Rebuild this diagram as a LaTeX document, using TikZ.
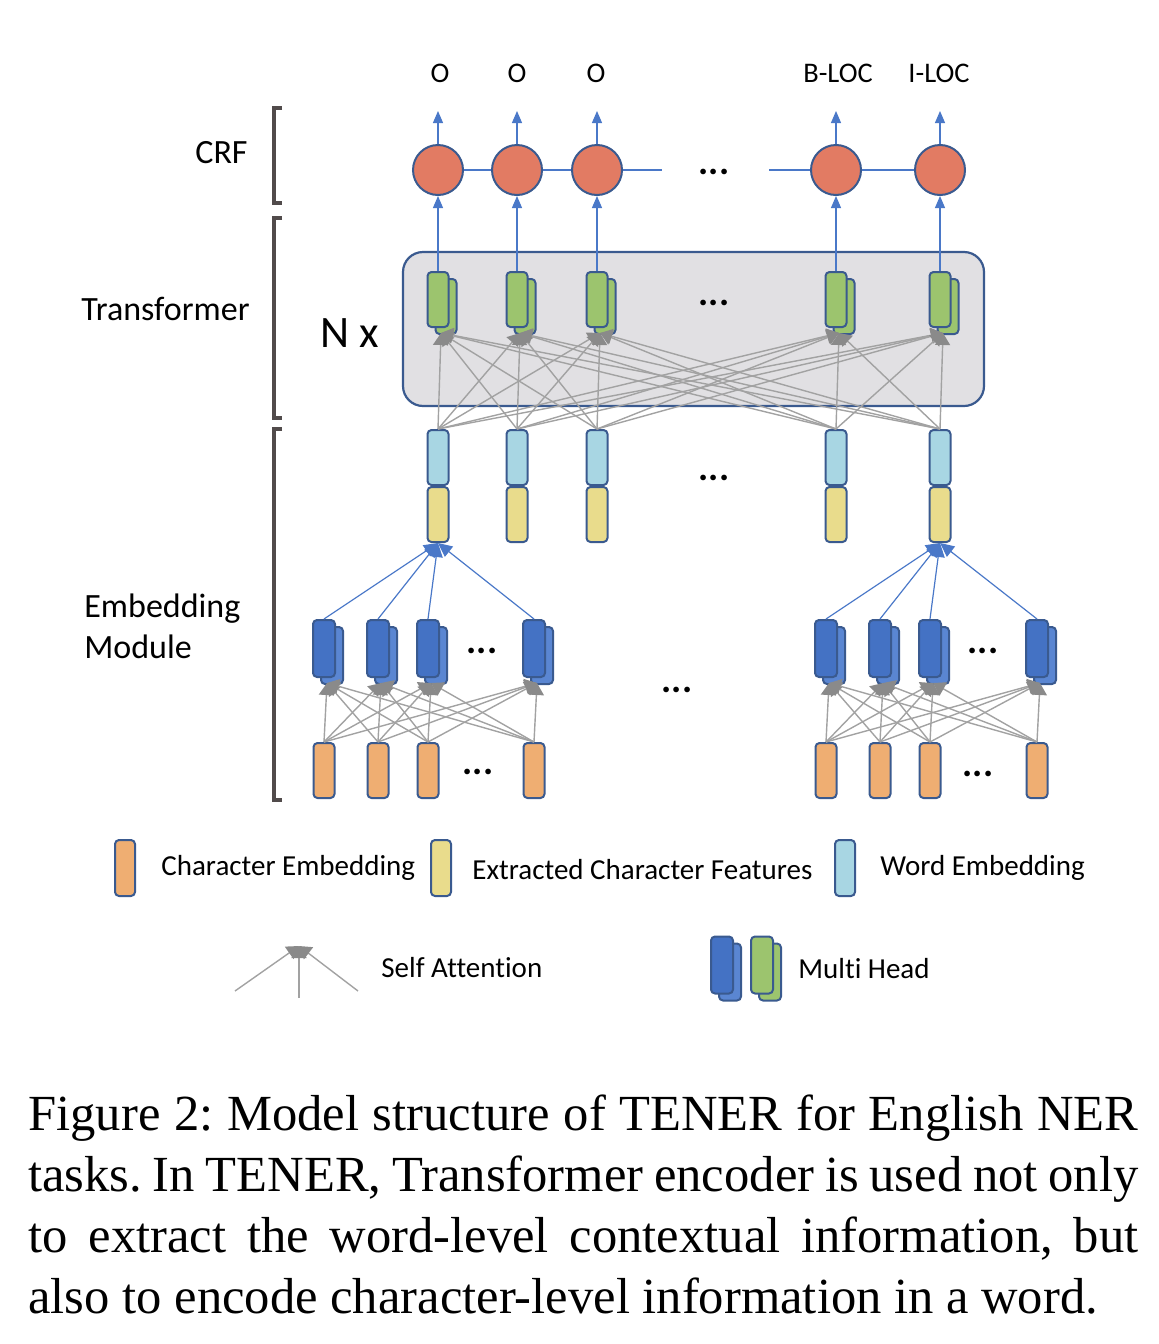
\documentclass[tikz,border=0pt]{standalone}
\usepackage{fontspec}
\setmainfont{Carlito}[Ligatures=NoCommon]
\newfontfamily\capfont{Liberation Serif}
\usepackage{tikz}
\usetikzlibrary{positioning,calc,arrows.meta}

\definecolor{bord}{HTML}{3A5A8F}
\definecolor{crfred}{HTML}{E27B63}
\definecolor{arrblue}{HTML}{4A78C8}
\definecolor{grn}{HTML}{9CC46E}
\definecolor{wrdblue}{HTML}{A8D6E3}
\definecolor{extyel}{HTML}{E9DC8C}
\definecolor{chrorg}{HTML}{EFAE72}
\definecolor{headblue}{HTML}{4472C4}
\definecolor{headback}{HTML}{5A86D2}
\definecolor{boxgray}{HTML}{E1E0E3}
\definecolor{attgray}{HTML}{A2A2A2}
\definecolor{tipgray}{HTML}{8A8A8A}
\definecolor{brk}{HTML}{514B4B}

\begin{document}
\begin{tikzpicture}[x=0.5pt,y=-0.5pt,
cell/.style={draw=bord,line width=1pt,rounded corners=2pt,minimum width=10.5pt,minimum height=27.5pt,inner sep=0pt},
head/.style={cell,minimum width=11pt,minimum height=28.5pt},
crf/.style={circle,draw=bord,line width=1pt,fill=crfred,minimum size=25pt,inner sep=0pt},
link/.style={arrblue,line width=0.6pt},
up/.style={link,-{Triangle[length=6pt,width=5pt]}},
att/.style={attgray,line width=0.7pt,-{Triangle[length=6pt,width=7.5pt,color=tipgray]}},
bracket/.style={brk,line width=1.8pt},
dots/.style={font=\fontsize{19}{19}\selectfont\bfseries,inner sep=0pt},
lab/.style={font=\fontsize{17}{20.5}\selectfont,inner sep=0pt},
leg/.style={font=\fontsize{14.5}{17}\selectfont,anchor=west,inner sep=0pt},
tag/.style={font=\fontsize{14.2}{17}\selectfont}]

\useasboundingbox (0,0) rectangle (1158,1344);

% transformer block
\node[draw=bord,fill=boxgray,line width=1.1pt,rounded corners=10pt,minimum width=290.5pt,minimum height=77pt] (enc) at (693.5,329) {};
\node[font=\fontsize{22.5}{25}\selectfont] (nx) at (350,333) {N x};

% word columns
\foreach \x [count=\i] in {438,517,597,836,940}{
  \node[crf] (crf\i) at (\x,170) {};
  \coordinate (top\i) at (\x,111);
  \node[head,fill=grn,minimum width=10.5pt,minimum height=27.5pt] (grnb\i) at (\x+8,306.5) {};
  \node[head,fill=grn,minimum width=10.5pt,minimum height=27.5pt] (grn\i) at (\x,299.5) {};
  \coordinate (att\i) at (\x+3,333);
  \node[cell,fill=wrdblue] (wrd\i) at (\x,457.5) {};
  \node[cell,fill=extyel,below=0pt of wrd\i] (ext\i) {};
  \draw[up] (grn\i.north) -- (crf\i.south);
  \draw[up] (crf\i.north) -- (top\i);
}

% output tags
\node[tag] (o1) at (440,73) {O};
\node[tag] (o2) at (517,73) {O};
\node[tag] (o3) at (596,73) {O};
\node[tag] (o4) at (838,73) {B-LOC};
\node[tag] (o5) at (939,73) {I-LOC};

% crf chain
\coordinate (gapl) at (662,170);
\coordinate (gapr) at (769,170);
\draw[link] (crf1) -- (crf2);
\draw[link] (crf2) -- (crf3);
\draw[link] (crf3) -- (gapl);
\draw[link] (gapr) -- (crf4);
\draw[link] (crf4) -- (crf5);

% self attention between words
\foreach \i in {1,...,5}{
  \foreach \j in {1,...,5}{
    \draw[att] (wrd\i.north) -- (att\j);
  }
}

% character level, left word and right word
\foreach \g/\k/\xs in {l/1/{324,378,428,534},r/5/{826,880,930,1037}}{
  \foreach \x [count=\i] in \xs {
    \node[head,fill=headback] (hdb\g\i) at (\x+8,655.5) {};
    \node[head,fill=headblue] (hd\g\i) at (\x,648.5) {};
    \coordinate (ha\g\i) at (\x+3,683);
    \node[cell,fill=chrorg] (ch\g\i) at (\x,770.5) {};
    \draw[up,-{Triangle[length=7pt,width=6.5pt]}] (hd\g\i.north) -- (ext\k.south);
  }
  \foreach \i in {1,...,4}{
    \foreach \j in {1,...,4}{
      \draw[att] (ch\g\i.north) -- (ha\g\j);
    }
  }
}

% dots
\node[dots] (d1) at (714,172) {...};
\node[dots] (d2) at (714,303) {...};
\node[dots] (d3) at (714,478) {...};
\node[dots] (d4) at (482,651) {...};
\node[dots] (d5) at (478,772) {...};
\node[dots] (d6) at (983,651) {...};
\node[dots] (d7) at (978,774) {...};
\node[dots] (d8) at (677,690) {...};

% brackets and part labels
\draw[bracket] (282,108) -- (274,108) -- (274,203) -- (282,203);
\draw[bracket] (282,218) -- (274,218) -- (274,418) -- (282,418);
\draw[bracket] (282,429) -- (274,429) -- (274,800) -- (282,800);
\node[lab,anchor=east] (crflab) at (248,153) {CRF};
\node[lab,anchor=east] (trlab) at (250,309) {Transformer};
\node[lab,anchor=west,align=left] (emblab) at (84,626) {Embedding\\Module};

% legend
\node[cell,fill=chrorg,minimum width=10pt,minimum height=28pt] (lc) at (125,868) {};
\node[leg] (lct) at (161,868) {Character Embedding};
\node[cell,fill=extyel,minimum width=10pt,minimum height=28pt] (le) at (441,868) {};
\node[leg] (let) at (472,870) {Extracted Character Features};
\node[cell,fill=wrdblue,minimum width=10pt,minimum height=28pt] (lw) at (845,868) {};
\node[leg] (lwt) at (880,868) {Word Embedding};

\coordinate (satip) at (299,946);
\coordinate (sa1) at (235,991);
\coordinate (sa2) at (299,998);
\coordinate (sa3) at (358,991);
\draw[att] (sa1) -- (satip);
\draw[att] (sa2) -- (satip);
\draw[att] (sa3) -- (satip);
\node[leg] (sat) at (381,968) {Self Attention};

\node[head,fill=headback] (mhb1) at (730,972) {};
\node[head,fill=headblue] (mh1) at (722,965) {};
\node[head,fill=grn] (mhb2) at (770,972) {};
\node[head,fill=grn] (mh2) at (762,965) {};
\node[leg] (mht) at (798,969) {Multi Head};

% caption
\node[anchor=base west,inner sep=0pt,text width=555pt,align=justify,
  font=\capfont\fontsize{25.3}{30.5}\selectfont\frenchspacing] (cap) at (28,1130)
  {Figure 2: Model structure of TENER for English NER\linebreak
   tasks. In TENER, Transformer encoder is used not only\linebreak
   to extract the word-level contextual information, but\linebreak
   also to encode character-level information in a word.};
\end{tikzpicture}
\end{document}
